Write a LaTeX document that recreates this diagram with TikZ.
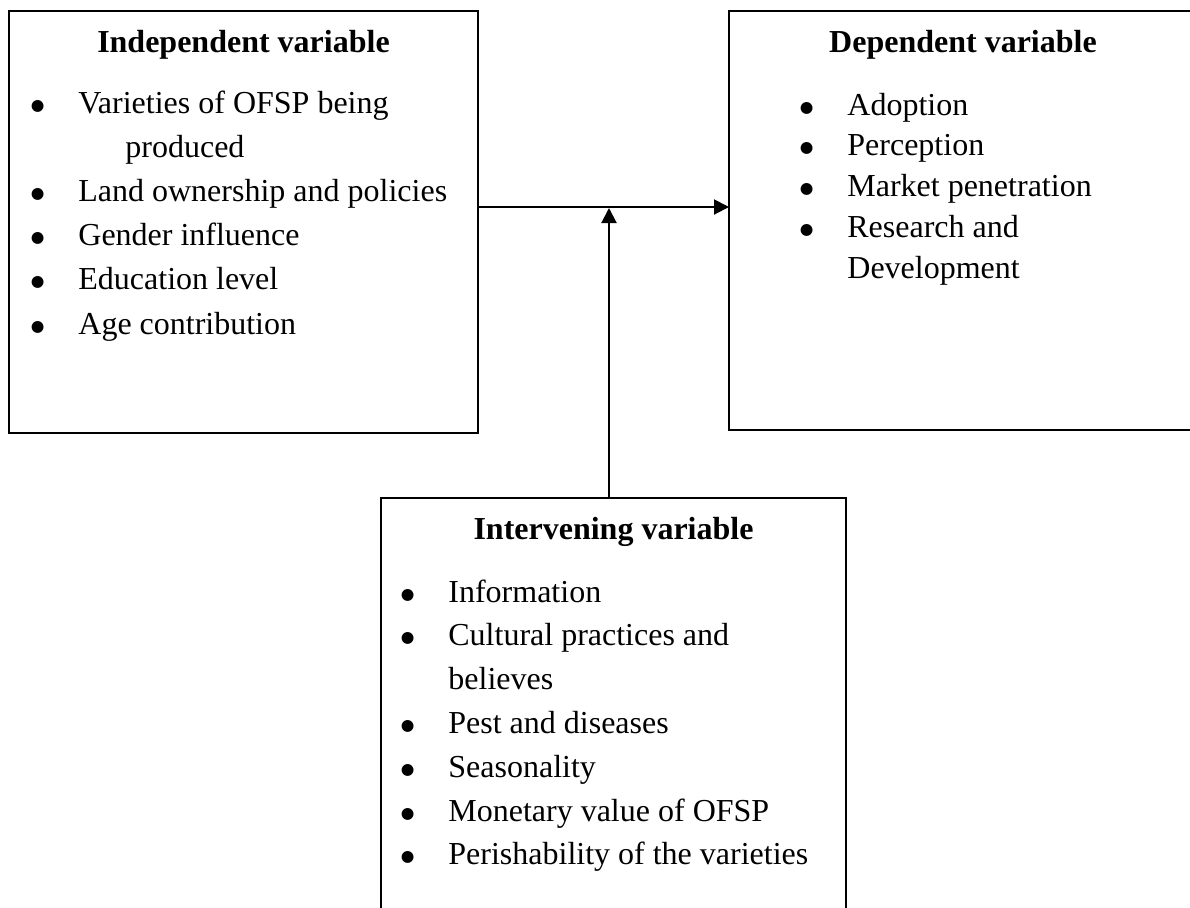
\documentclass[tikz,border=0pt]{standalone}
\usepackage{fontspec}
\setmainfont{Liberation Serif}
\newfontfamily\dotfont{DejaVu Sans}
\usetikzlibrary{arrows.meta}

\newcommand{\bul}{\makebox[22.8pt][l]{\hspace*{-1pt}\raisebox{1.5pt}{\dotfont\fontsize{7.8}{9}\selectfont ●}}}

\begin{document}
\begin{tikzpicture}[x=0.5pt,y=-0.5pt,
    varbox/.style={draw,line width=1pt,inner sep=0pt,outer sep=0pt,anchor=north west},
    head/.style={anchor=base,inner sep=0pt,font=\fontsize{16}{20}\selectfont\bfseries},
    items/.style={anchor=base west,inner sep=0pt},
    link/.style={line width=1pt,-{Triangle[length=7.5pt,width=7.5pt]}}]
    \useasboundingbox (0,0) rectangle (1190,907);

    \node[varbox,minimum width=234.5pt,minimum height=211pt] (indep) at (9,11) {};
    \node[varbox,minimum width=234pt,minimum height=209.5pt] (dep) at (729,11) {};
    \node[varbox,minimum width=232.5pt,minimum height=220pt] (interv) at (381,498) {};

    \node[head] (indeptitle) at (indep.north |- 0,52) {Independent variable};
    \node[head] (deptitle) at (dep.north |- 0,52) {Dependent variable};
    \node[head] (intervtitle) at (interv.north |- 0,539) {Intervening variable};

    \node[items,font=\fontsize{16}{22.1}\selectfont] (indeplist) at (32.4,113) {%
      \begin{tabular}[t]{@{}l@{}}
        \bul Varieties of OFSP being\\
        \hspace*{46.3pt}produced\\
        \bul Land ownership and policies\\
        \bul Gender influence\\
        \bul Education level\\
        \bul Age contribution
      \end{tabular}};
    \node[items,font=\fontsize{16}{20.4}\selectfont] (deplist) at (801.4,115) {%
      \begin{tabular}[t]{@{}l@{}}
        \bul Adoption\\
        \bul Perception\\
        \bul Market penetration\\
        \bul Research and\\
        \hspace*{22.8pt}Development
      \end{tabular}};
    \node[items,font=\fontsize{16}{21.9}\selectfont] (intervlist) at (402.4,602) {%
      \begin{tabular}[t]{@{}l@{}}
        \bul Information\\
        \bul Cultural practices and\\
        \hspace*{22.8pt}believes\\
        \bul Pest and diseases\\
        \bul Seasonality\\
        \bul Monetary value of OFSP\\
        \bul Perishability of the varieties
      \end{tabular}};

    % arrows
    \coordinate (meet) at (609,207);
    \draw[link] (indep.east |- meet) -- (dep.west |- meet);
    \draw[link] (interv.north -| meet) -- ([yshift=-0.5pt]meet);
\end{tikzpicture}
\end{document}
